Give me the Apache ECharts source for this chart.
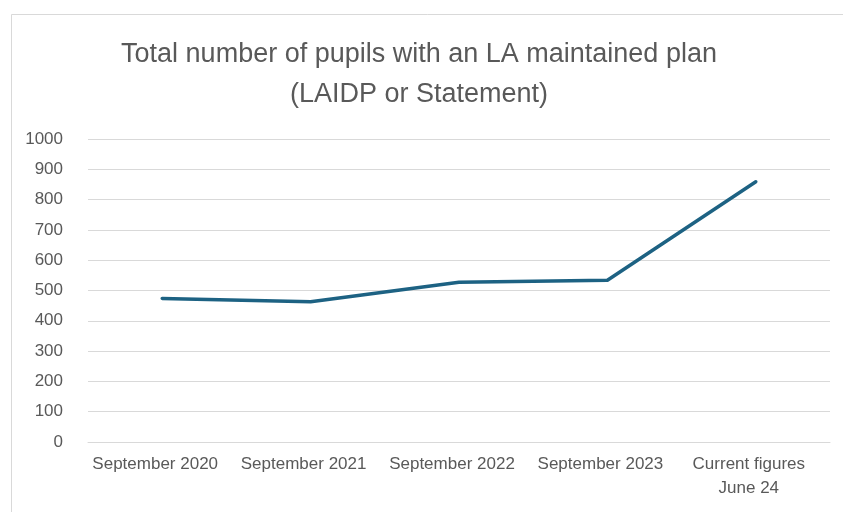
<!DOCTYPE html>
<html>
<head>
<meta charset="utf-8">
<script src="https://cdn.jsdelivr.net/npm/echarts@6/dist/echarts.min.js"></script>
<style>
  html, body { margin: 0; padding: 0; background: #fff; }
  #chart { width: 843px; height: 512px; }
</style>
</head>
<body>
<div id="chart"></div>
<script>
const categories = [
  "September 2020",
  "September 2021",
  "September 2022",
  "September 2023",
  "Current figures\nJune 24"
];
const pupils = [474, 463, 527, 534, 859];
const yTicks = { min: 0, max: 1000, interval: 100 };

const labelFont = "'Liberation Sans Narrow', 'Arial Narrow', 'Liberation Sans', sans-serif";
const textColor = "#595959";
const gridColor = "#d9d9d9";

const chart = echarts.init(document.getElementById("chart"));

chart.setOption({
  animation: false,
  backgroundColor: "#fff",
  graphic: [
    {
      type: "rect",
      left: 9,
      top: 12,
      shape: { width: 900, height: 600 },
      style: { fill: "none", stroke: gridColor, lineWidth: 1 },
      silent: true
    }
  ],
  title: {
    text: "Total number of pupils with an LA maintained plan\n(LAIDP or Statement)",
    left: 414,
    top: 30,
    textAlign: "center",
    textStyle: {
      fontFamily: labelFont,
      fontWeight: "normal",
      fontSize: 27,
      lineHeight: 40,
      color: textColor,
      align: "center"
    }
  },
  grid: {
    left: 88,
    right: 13,
    top: 139,
    bottom: 70
  },
  xAxis: {
    type: "category",
    data: categories,
    boundaryGap: true,
    axisLine: { lineStyle: { color: gridColor, width: 1 } },
    axisTick: { show: false },
    axisLabel: {
      margin: 10,
      interval: 0,
      color: textColor,
      fontFamily: labelFont,
      fontSize: 17,
      lineHeight: 24,
      padding: [0, 14, 0, 0]
    }
  },
  yAxis: {
    type: "value",
    min: yTicks.min,
    max: yTicks.max,
    interval: yTicks.interval,
    axisLine: { show: false },
    axisTick: { show: false },
    splitLine: { lineStyle: { color: gridColor, width: 1 } },
    axisLabel: {
      margin: 25,
      color: textColor,
      fontFamily: labelFont,
      fontSize: 17,
      formatter: (v) => String(v)
    }
  },
  series: [
    {
      type: "line",
      data: pupils,
      symbol: "none",
      lineStyle: { color: "#1d6283", width: 3.5, cap: "round", join: "round" },
      itemStyle: { color: "#1d6283" }
    }
  ]
});
</script>
</body>
</html>
